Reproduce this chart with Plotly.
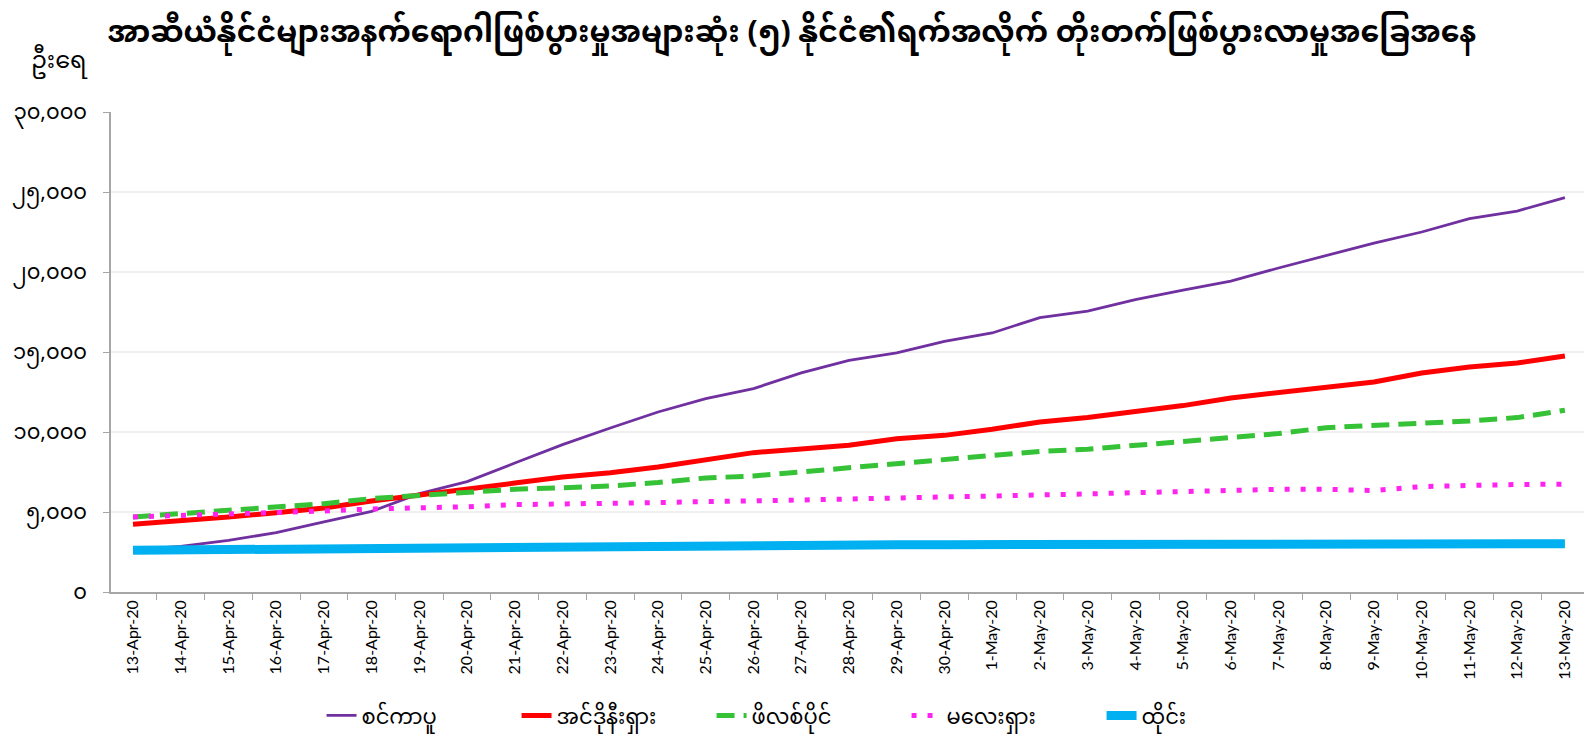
import plotly.graph_objects as go

dates = ["13-Apr-20", "14-Apr-20", "15-Apr-20", "16-Apr-20", "17-Apr-20", "18-Apr-20",
         "19-Apr-20", "20-Apr-20", "21-Apr-20", "22-Apr-20", "23-Apr-20", "24-Apr-20",
         "25-Apr-20", "26-Apr-20", "27-Apr-20", "28-Apr-20", "29-Apr-20", "30-Apr-20",
         "1-May-20", "2-May-20", "3-May-20", "4-May-20", "5-May-20", "6-May-20",
         "7-May-20", "8-May-20", "9-May-20", "10-May-20", "11-May-20", "12-May-20",
         "13-May-20"]

# values
singapore = [2650, 2850, 3230, 3710, 4380, 5040, 6150, 6900, 8060, 9210, 10250, 11250,
             12090, 12710, 13690, 14480, 14940, 15670, 16190, 17150, 17560, 18270,
             18860, 19430, 20250, 21040, 21810, 22500, 23330, 23810, 24650]
indonesia = [4230, 4440, 4690, 4960, 5250, 5690, 6040, 6460, 6810, 7190, 7460, 7810,
             8270, 8710, 8940, 9170, 9580, 9790, 10170, 10630, 10900, 11290, 11650,
             12130, 12440, 12770, 13130, 13690, 14060, 14310, 14750]
philippines = [4690, 4900, 5110, 5270, 5520, 5840, 6040, 6250, 6420, 6520, 6630, 6840,
               7130, 7250, 7500, 7770, 7980, 8230, 8500, 8790, 8920, 9170, 9420, 9630,
               9900, 10270, 10420, 10520, 10690, 10900, 11360]
malaysia = [4690, 4770, 4900, 4960, 5060, 5190, 5250, 5330, 5460, 5480, 5560, 5590,
            5650, 5730, 5750, 5810, 5900, 5940, 6000, 6040, 6130, 6210, 6290, 6390,
            6420, 6420, 6340, 6590, 6670, 6720, 6740]
thailand = [2610, 2640, 2660, 2680, 2710, 2730, 2770, 2790, 2810, 2830, 2840, 2860,
            2900, 2920, 2930, 2940, 2950, 2955, 2960, 2965, 2970, 2985, 2990, 2990,
            2995, 3000, 3005, 3010, 3015, 3020, 3020]

names = ["စင်ကာပူ", "အင်ဒိုနီးရှား", "ဖိလစ်ပိုင်", "မလေးရှား", "ထိုင်း"]

y_ticks = [0, 5000, 10000, 15000, 20000, 25000, 30000]
y_tick_text = ["၀", "၅,၀၀၀", "၁၀,၀၀၀", "၁၅,၀၀၀", "၂၀,၀၀၀", "၂၅,၀၀၀", "၃၀,၀၀၀"]

title = "အာဆီယံနိုင်ငံများအနက်ရောဂါဖြစ်ပွားမှုအများဆုံး (၅) နိုင်ငံ၏ရက်အလိုက် တိုးတက်ဖြစ်ပွားလာမှုအခြေအနေ"

mm_font = "Noto Sans Myanmar, Myanmar Text, Padauk, Noto Sans, sans-serif"

fig = go.Figure()
fig.add_trace(go.Scatter(x=dates, y=singapore, name=names[0], mode="lines",
                         line=dict(color="#7030A0", width=2.8)))
fig.add_trace(go.Scatter(x=dates, y=indonesia, name=names[1], mode="lines",
                         line=dict(color="#FF0000", width=5)))
fig.add_trace(go.Scatter(x=dates, y=philippines, name=names[2], mode="lines",
                         line=dict(color="#36C236", width=5, dash="18px,9px")))
fig.add_trace(go.Scatter(x=dates, y=malaysia, name=names[3], mode="lines",
                         line=dict(color="#FF22F0", width=5, dash="5px,11px")))
fig.add_trace(go.Scatter(x=dates, y=thailand, name=names[4], mode="lines",
                         line=dict(color="#00B0F0", width=9)))

fig.update_layout(
    width=1584, height=741,
    paper_bgcolor="white", plot_bgcolor="white",
    margin=dict(l=111, r=0, t=112, b=149),
    title=dict(text=title, x=0.5, xanchor="center", y=0.958, yanchor="middle",
               font=dict(family=mm_font, size=30, color="black", weight="bold")),
    font=dict(family=mm_font, color="black"),
    showlegend=True,
    legend=dict(orientation="h", x=0.203, xanchor="left", xref="container",
                y=0.034, yanchor="middle", yref="container",
                entrywidth=150, entrywidthmode="pixels",
                font=dict(family=mm_font, size=21, color="black")),
    annotations=[dict(text="ဦးရေ", xref="paper", yref="paper", x=-0.035, y=1.104,
                      xanchor="center", yanchor="middle", showarrow=False,
                      font=dict(family=mm_font, size=24, color="black"))],
)

fig.update_xaxes(
    type="category", range=[-0.461, 30.4],
    tickson="boundaries", ticks="outside", ticklen=6, tickcolor="#A6A6A6",
    showline=True, linecolor="#A6A6A6", linewidth=1.5,
    showgrid=False, tickangle=-90,
    tickfont=dict(family="Lato, Liberation Sans, sans-serif", size=16, color="black"),
)
fig.update_yaxes(
    range=[0, 30000], tickvals=y_ticks, ticktext=y_tick_text,
    ticks="outside", ticklen=6, tickcolor="#A6A6A6", ticklabelstandoff=12,
    showline=True, linecolor="#A6A6A6", linewidth=1.5,
    showgrid=True, gridcolor="#F0F0F0", gridwidth=1.5, zeroline=False,
    tickfont=dict(family=mm_font, size=21, color="black"),
)

fig.write_html("out.html", config={"displayModeBar": False},
               post_script="document.body.style.margin='0';document.body.style.overflow='hidden';")
